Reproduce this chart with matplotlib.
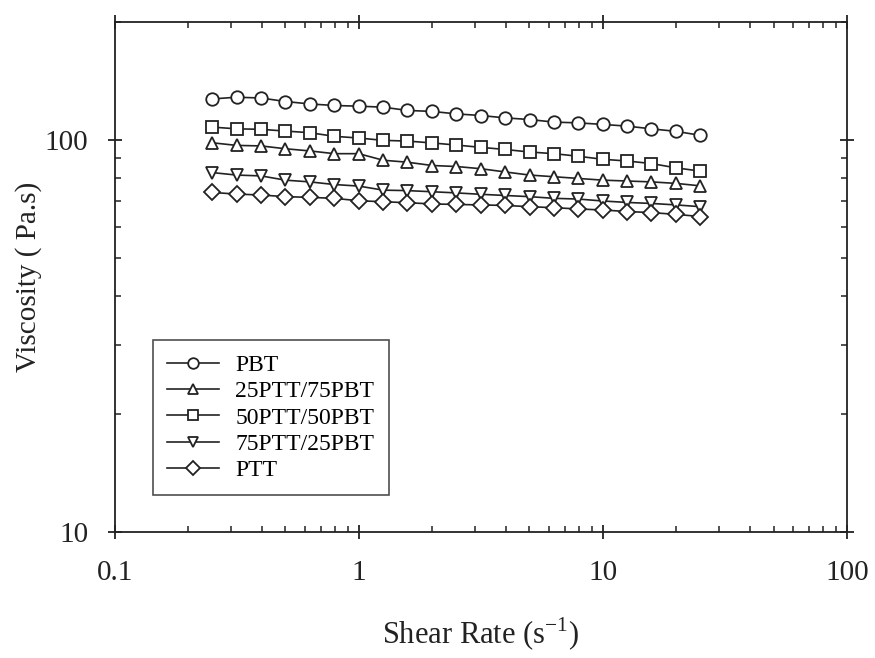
import matplotlib
matplotlib.use("Agg")
import matplotlib.pyplot as plt
from matplotlib.ticker import LogLocator, NullFormatter, FixedLocator, FixedFormatter

plt.rcParams['font.family'] = ['Liberation Serif', 'DejaVu Serif']

# shear rate (1/s), ten points per decade
shear_rate = [0.251, 0.316, 0.398, 0.501, 0.631, 0.794, 1.0, 1.26, 1.58, 2.0, 2.51,
              3.16, 3.98, 5.01, 6.31, 7.94, 10.0, 12.6, 15.8, 20.0, 25.1]

# viscosity (Pa.s)
pbt = [127.3, 128.6, 128.0, 125.4, 123.6, 122.5, 122.0, 121.3, 119.0, 118.3, 116.6,
       115.5, 113.9, 112.8, 111.1, 110.6, 109.6, 108.5, 106.8, 105.2, 102.8]
ptt25 = [98.4, 96.9, 96.6, 95.0, 93.8, 92.3, 92.3, 88.8, 87.8, 86.1, 85.6,
         84.5, 82.9, 81.4, 80.6, 79.8, 79.0, 78.6, 78.2, 77.5, 76.4]
ptt50 = [107.9, 106.8, 106.5, 105.4, 104.4, 102.2, 101.2, 99.8, 99.4, 98.3, 97.1,
         95.8, 94.6, 93.2, 92.3, 90.9, 89.3, 88.4, 87.1, 84.9, 83.3]
ptt75 = [82.6, 81.4, 81.0, 79.0, 78.2, 77.0, 76.3, 74.5, 74.3, 73.8, 73.3,
         72.7, 72.2, 71.7, 71.0, 70.7, 69.9, 69.3, 68.9, 68.3, 67.6]
ptt = [73.5, 72.8, 72.4, 71.7, 71.4, 71.0, 70.0, 69.6, 69.2, 68.7, 68.5,
       68.3, 68.1, 67.6, 67.2, 66.7, 66.3, 65.7, 65.3, 64.6, 63.8]

series = [
    ('PBT', pbt, 'o'),
    ('25PTT/75PBT', ptt25, '^'),
    ('50PTT/50PBT', ptt50, 's'),
    ('75PTT/25PBT', ptt75, 'v'),
    ('PTT', ptt, 'D'),
]
sizes = {'o': 9, '^': 9, 's': 8.5, 'v': 9, 'D': 8}

ink = '#222222'

fig = plt.figure(figsize=(8.75, 6.58), dpi=100)
ax = fig.add_axes([0.131, 0.1915, 0.837, 0.775])

for label, vals, m in series:
    ax.plot(shear_rate, vals, marker=m, color=ink, lw=1.2, ms=sizes[m],
            mfc='white', mec=ink, mew=1.3, label=label)

ax.set_xscale('log')
ax.set_yscale('log')
ax.set_xlim(0.1, 100)
ax.set_ylim(10, 200)

ax.xaxis.set_major_locator(FixedLocator([0.1, 1, 10, 100]))
ax.xaxis.set_major_formatter(FixedFormatter(['0.1', '1', '10', '100']))
ax.yaxis.set_major_locator(FixedLocator([10, 100]))
ax.yaxis.set_major_formatter(FixedFormatter(['10', '100']))
ax.xaxis.set_minor_locator(LogLocator(base=10, subs=range(2, 10)))
ax.yaxis.set_minor_locator(LogLocator(base=10, subs=range(2, 10)))
ax.xaxis.set_minor_formatter(NullFormatter())
ax.yaxis.set_minor_formatter(NullFormatter())

ax.tick_params(which='major', direction='inout', length=10, width=1.3,
               top=True, right=True, labelsize=21, colors=ink)
ax.tick_params(axis='x', which='major', pad=15)
ax.tick_params(axis='y', which='major', pad=14)
ax.tick_params(which='minor', direction='in', length=4, width=1.1,
               top=True, right=True, colors=ink)
for sp in ax.spines.values():
    sp.set_linewidth(1.3)
    sp.set_color(ink)

ax.set_xlabel('Shear Rate (s$^{\\mathregular{-1}}$)', fontsize=22, labelpad=22, color=ink)
ax.set_ylabel('Viscosity ( Pa.s)', fontsize=21, labelpad=2, color=ink)

leg = ax.legend(loc='lower left', bbox_to_anchor=(0.052, 0.072), fontsize=17,
                frameon=True, fancybox=False, edgecolor=ink, markerscale=0.85,
                handlelength=2.2, labelspacing=0.2, borderpad=0.6, handletextpad=0.7,
                borderaxespad=0)
leg.get_frame().set_linewidth(1.2)

fig.savefig('out.png', dpi=100, facecolor='white')
